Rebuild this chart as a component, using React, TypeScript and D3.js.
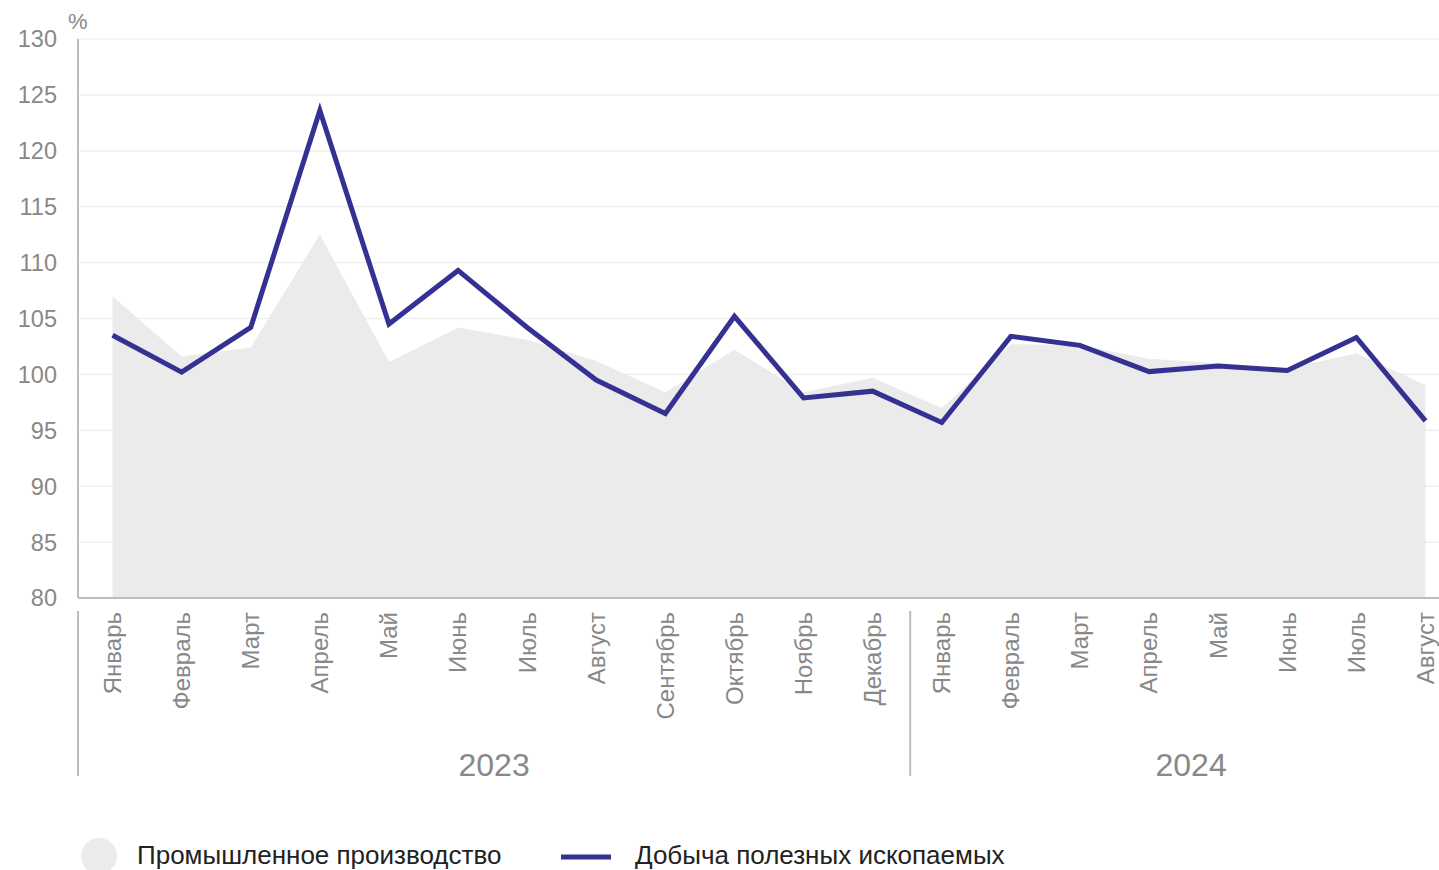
import * as d3 from 'd3';
import React from 'react';

const months = [
  "Январь", "Февраль", "Март", "Апрель", "Май", "Июнь", "Июль", "Август",
  "Сентябрь", "Октябрь", "Ноябрь", "Декабрь",
  "Январь", "Февраль", "Март", "Апрель", "Май", "Июнь", "Июль", "Август",
];
const years = ["2023", "2024"];
const yearStart = [0, 12];
const yearEnd = [11, 19];

const industry = [
  107.0, 101.6, 102.4, 112.5, 101.1, 104.2, 103.1, 101.2, 98.4, 102.2, 98.4, 99.7,
  97.0, 102.7, 102.6, 101.4, 101.0, 100.5, 101.9, 99.05,
];
const mining = [
  103.5, 100.2, 104.2, 123.6, 104.5, 109.3, 104.2, 99.5, 96.5, 105.2, 97.9, 98.5,
  95.7, 103.4, 102.6, 100.25, 100.75, 100.35, 103.3, 95.85,
];
const yTicks = [80, 85, 90, 95, 100, 105, 110, 115, 120, 125, 130];

const W = 1439;
const H = 870;
const FONT = "'Liberation Sans', Arial, sans-serif";
const LINE = "#353192";
const AREA = "#ebebeb";
const AXIS = "#bdbdbd";
const TEXT = "#888888";

const App: React.FC = () => {
  const left = 78;
  const top = 39;
  const bottom = 598;

  const x = d3.scaleBand<number>()
    .domain(months.map((_, i) => i))
    .range([left, left + 69.1 * months.length]);
  const cx = (i: number) => x(i)! + x.bandwidth() / 2;

  const y = d3.scaleLinear().domain([80, 130]).range([bottom, top]);

  const area = d3.area<number>()
    .x((_, i) => cx(i))
    .y0(y(80))
    .y1(d => y(d));
  const line = d3.line<number>()
    .x((_, i) => cx(i))
    .y(d => y(d));

  const dividers = [left, x(yearStart[1])! + 3];

  return (
    <svg width={W} height={H} style={{ position: "absolute", left: 0, top: 0, fontFamily: FONT }}>
      {/* gridlines */}
      {yTicks.map(t => (
        <line key={t} x1={left} x2={W} y1={y(t)} y2={y(t)} stroke="#ececec" strokeWidth={1.2} />
      ))}

      <path d={area(industry)!} fill={AREA} />
      <path d={line(mining)!} fill="none" stroke={LINE} strokeWidth={5} strokeLinejoin="miter" />

      {/* axes */}
      <line x1={left} x2={left} y1={top} y2={bottom} stroke={AXIS} strokeWidth={2} />
      <line x1={left} x2={W} y1={bottom} y2={bottom} stroke={AXIS} strokeWidth={2} />

      {yTicks.map(t => (
        <text key={t} x={57} y={y(t)} dy="0.36em" textAnchor="end" fontSize={23.5} fill={TEXT}>{t}</text>
      ))}
      <text x={68} y={29} fontSize={22} fill={TEXT}>%</text>

      {months.map((m, i) => (
        <text
          key={i}
          transform={`translate(${cx(i)},${612}) rotate(-90)`}
          dy="0.35em"
          textAnchor="end"
          fontSize={24}
          fill={TEXT}
        >{m}</text>
      ))}

      {dividers.map((d, i) => (
        <line key={i} x1={d} x2={d} y1={611} y2={776} stroke={AXIS} strokeWidth={2} />
      ))}

      {years.map((yr, i) => {
        const a = i === 0 ? left : dividers[1];
        const b = i === 0 ? dividers[1] : x(yearEnd[1])! + x.bandwidth() + 12;
        return (
          <text key={yr} x={(a + b) / 2} y={776} textAnchor="middle" fontSize={32} fill={TEXT}>{yr}</text>
        );
      })}

      {/* legend */}
      <circle cx={99} cy={856} r={18} fill={AREA} />
      <text x={137} y={864} fontSize={26} fill="#222">Промышленное производство</text>
      <line x1={561} x2={611} y1={857} y2={857} stroke={LINE} strokeWidth={5} />
      <text x={635} y={864} fontSize={26} fill="#222">Добыча полезных ископаемых</text>
    </svg>
  );
};

export default App;
